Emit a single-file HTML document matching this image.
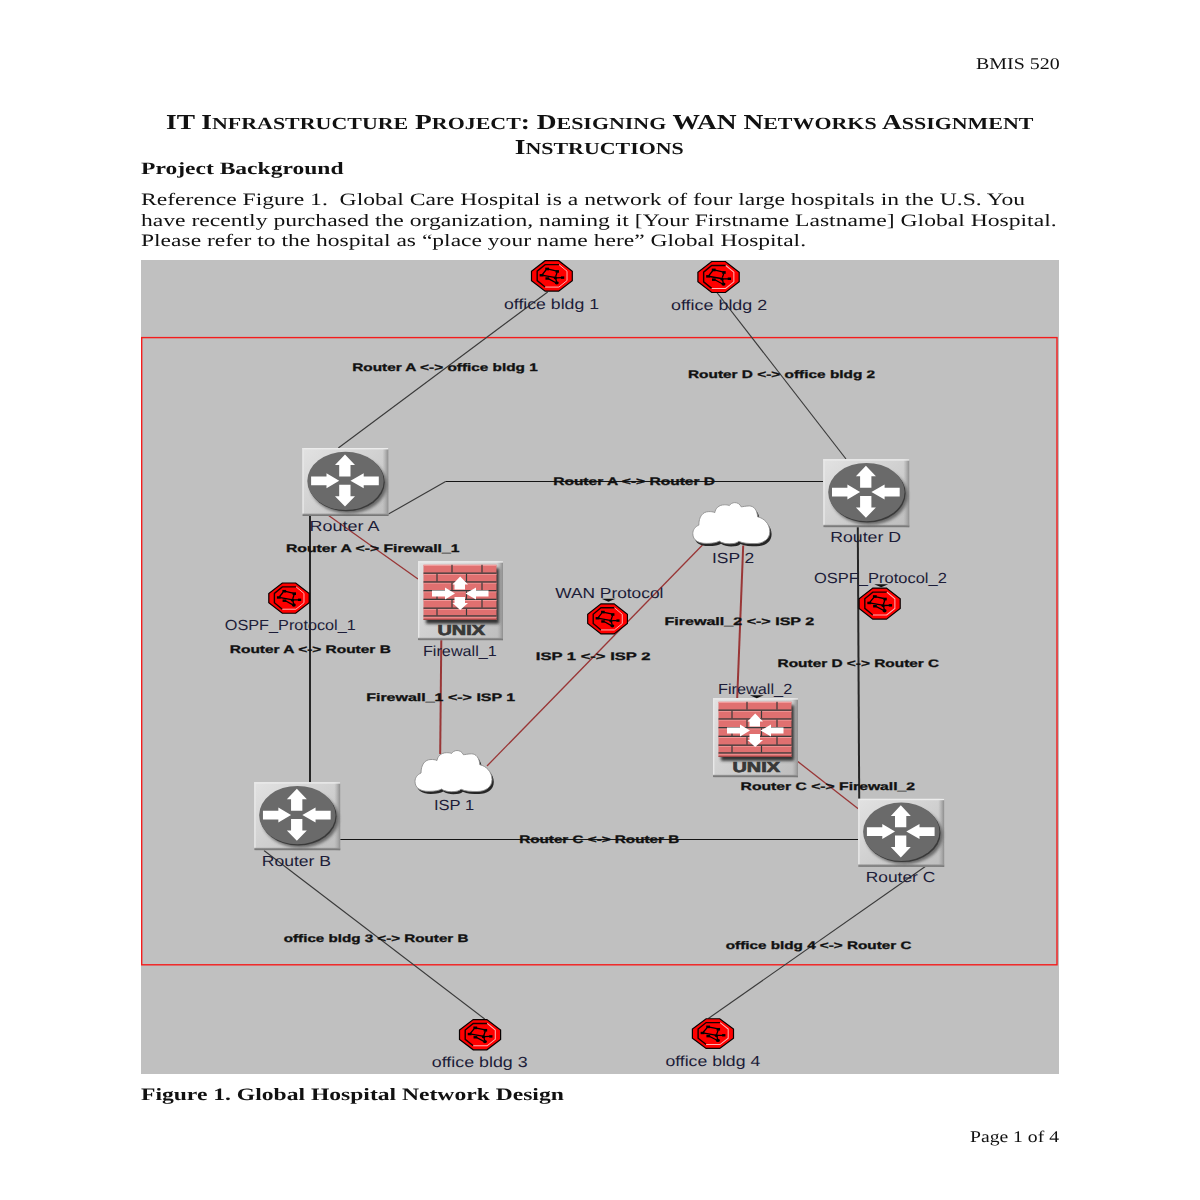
<!DOCTYPE html>
<html><head><meta charset="utf-8"><title>BMIS 520</title>
<style>
html,body{margin:0;padding:0;background:#fff;width:1200px;height:1200px;overflow:hidden}
svg{display:block}
text{white-space:pre;text-rendering:geometricPrecision}
text.d{opacity:0.995}
</style></head><body>
<svg width="1200" height="1200" viewBox="0 0 1200 1200">
<defs>
<linearGradient id="boxg" x1="0" y1="0" x2="1" y2="1">
  <stop offset="0" stop-color="#e2e2e2"/>
  <stop offset="0.5" stop-color="#d0d0d0"/>
  <stop offset="1" stop-color="#bdbdbd"/>
</linearGradient>
<linearGradient id="redge" x1="0" y1="0" x2="1" y2="0"><stop offset="0" stop-color="#b0b0b0" stop-opacity="0"/><stop offset="0.7" stop-color="#a4a4a4"/><stop offset="1" stop-color="#8e8e8e"/></linearGradient>
<linearGradient id="bedge" x1="0" y1="0" x2="0" y2="1"><stop offset="0" stop-color="#9a9a9a"/><stop offset="1" stop-color="#6e6e6e"/></linearGradient>
<filter id="blur1" x="-20%" y="-20%" width="140%" height="140%"><feGaussianBlur stdDeviation="1.6"/></filter>
<filter id="blur05" x="-20%" y="-20%" width="140%" height="140%"><feGaussianBlur stdDeviation="0.7"/></filter>
<symbol id="router" overflow="visible">
  <rect x="0" y="0" width="86" height="68" fill="url(#boxg)"/>
  <rect x="80" y="0" width="6" height="68" fill="url(#redge)"/>
  <rect x="0" y="0" width="86" height="1.4" fill="#ececec"/>
  <rect x="0" y="0" width="1.4" height="68" fill="#e8e8e8"/>
  <rect x="0" y="65.6" width="86" height="2.4" fill="url(#bedge)"/>
  <ellipse cx="46" cy="36.5" rx="38.5" ry="29" fill="#4a4a4a" filter="url(#blur1)" opacity="0.75"/>
  <ellipse cx="44.1" cy="34.2" rx="38.2" ry="29.1" fill="#3a3a3a"/>
  <ellipse cx="43.1" cy="32.9" rx="38.2" ry="29.2" fill="#6a6a6a"/>
  <path fill="#fff" d="M42.6 6.5 L52.6 17.1 L48.1 17.1 L48.1 28.5 L36.8 28.5 L36.8 17.1 L32.6 17.1 Z"/>
  <path fill="#fff" d="M42.6 58.6 L52.6 48.3 L48.1 48.3 L48.1 36.8 L36.8 36.8 L36.8 48.3 L32.6 48.3 Z"/>
  <path fill="#fff" d="M36.8 32.8 L24.1 25.3 L24.1 28.5 L8.7 28.5 L8.7 37.2 L24.1 37.2 L24.1 40.3 Z"/>
  <path fill="#fff" d="M48.1 32.8 L61.3 25.3 L61.3 28.5 L76.4 28.5 L76.4 37.2 L61.3 37.2 L61.3 40.3 Z"/>
</symbol>
<symbol id="firewall" overflow="visible">
  <rect x="0" y="0" width="85" height="79" fill="url(#boxg)"/>
  <rect x="79" y="0" width="6" height="79" fill="url(#redge)"/>
  <rect x="0" y="0" width="85" height="1.4" fill="#ececec"/>
  <rect x="0" y="0" width="1.4" height="79" fill="#e8e8e8"/>
  <rect x="0" y="76.6" width="85" height="2.4" fill="url(#bedge)"/>
  <rect x="8" y="7" width="73" height="55.5" fill="#303030" filter="url(#blur1)"/>
  <rect x="5.5" y="3.6" width="73" height="55.2" fill="#e07070"/>
  <g fill="#f29a9a">
    <rect x="5.5" y="3.6" width="73" height="1.2"/>
    <rect x="5.5" y="12.6" width="73" height="1"/>
    <rect x="5.5" y="21.4" width="73" height="1"/>
    <rect x="5.5" y="30.1" width="73" height="1"/>
    <rect x="5.5" y="38.8" width="73" height="1"/>
    <rect x="5.5" y="47.6" width="73" height="1"/>
    <rect x="5.5" y="55.4" width="73" height="1"/>
  </g>
  <g fill="#3a3a3a">
    <rect x="5.5" y="11.3" width="73" height="1.3"/>
    <rect x="5.5" y="20.1" width="73" height="1.3"/>
    <rect x="5.5" y="28.8" width="73" height="1.3"/>
    <rect x="5.5" y="37.5" width="73" height="1.3"/>
    <rect x="5.5" y="46.3" width="73" height="1.3"/>
    <rect x="5.5" y="54.1" width="73" height="1.3"/>
    <rect x="33.4" y="3.6" width="1.2" height="7.8"/>
    <rect x="63.4" y="3.6" width="1.2" height="7.8"/>
    <rect x="18.4" y="12.5" width="1.2" height="7.8"/>
    <rect x="47.9" y="12.5" width="1.2" height="7.8"/>
    <rect x="33.4" y="21.3" width="1.2" height="7.8"/>
    <rect x="63.4" y="21.3" width="1.2" height="7.8"/>
    <rect x="18.4" y="30" width="1.2" height="7.8"/>
    <rect x="47.9" y="30" width="1.2" height="7.8"/>
    <rect x="33.4" y="38.7" width="1.2" height="7.8"/>
    <rect x="63.4" y="38.7" width="1.2" height="7.8"/>
    <rect x="18.4" y="47.5" width="1.2" height="6.8"/>
    <rect x="47.9" y="47.5" width="1.2" height="6.8"/>
  </g>
  <rect x="5.5" y="57.6" width="73" height="1.2" fill="#a04848"/>
  <path fill="#fff" d="M42.2 15.3 L50 23.3 L47 23.3 L47 28.3 L36.5 28.3 L36.5 23.3 L34.5 23.3 Z"/>
  <path fill="#fff" d="M42.2 48.8 L50 41.8 L47 41.8 L47 35.8 L36.5 35.8 L36.5 41.8 L34.5 41.8 Z"/>
  <path fill="#fff" d="M37 32.3 L27 26.3 L27 29.3 L14 29.3 L14 35.3 L27 35.3 L27 38.3 Z"/>
  <path fill="#fff" d="M47.5 32.3 L58 26.3 L58 29.3 L70.5 29.3 L70.5 35.3 L58 35.3 L58 38.3 Z"/>
  <text x="19.5" y="74.3" font-family='"Liberation Sans", sans-serif' font-weight="bold" font-size="14.5" fill="#383838" stroke="#383838" stroke-width="0.7" textLength="47.5" lengthAdjust="spacingAndGlyphs">UNIX</text>
</symbol>
<path id="cloudshape" d="M0 31 C0 38 6 40.8 13.5 40.8 C20 40.8 24 40 26.5 38.5 C29 40.5 33 41.2 36.5 41.2 C41 41.2 44 40.5 46 38.7 C50 40.8 56 41 62 41 C70 41 77 37 77 29 C77 21 71 15.5 64.8 14.2 C64.5 7.5 61 3.3 56.5 3.3 C53 3.3 50 4.2 48.4 4.2 C47 1.2 44.5 0 42 0 C39.5 0 37.5 1.5 36.5 3 C35 2.2 33.5 2.2 31.5 2.2 C26 2.2 22.5 6 22 10 C20 9 18 9 16 9 C10 9 6 14 6 22.5 C2.5 24 0 27 0 31 Z"/>
<symbol id="cloud" overflow="visible">
  <use href="#cloudshape" x="1.8" y="2.6" fill="#262626" filter="url(#blur05)"/>
  <use href="#cloudshape" fill="#fff" stroke="#8e8e8e" stroke-width="0.9"/>
</symbol>
<symbol id="octa" overflow="visible">
  <path d="M14.2 0.5 L27.8 0.5 L41.5 11.2 L41.5 20.8 L27.8 31.5 L14.2 31.5 L0.5 20.8 L0.5 11.2 Z" fill="#ff0000" stroke="#080000" stroke-width="1.2"/>
  <path d="M14.2 27.4 L6.2 20.8 L6.2 11.2 L14.2 4.5 L28.2 4.5" fill="none" stroke="#180000" stroke-width="1.4"/>
  <path d="M28.2 4.5 L36.2 11.2 L36.2 20.8 L28 27.4 L14.2 27.4" fill="none" stroke="#ffb4b4" stroke-width="1"/>
  <g stroke="#000" stroke-width="1.3" fill="none">
    <path d="M17.5 9.2 L25 10.9 M15 10 L11.3 14.6 M12.2 15.5 L23.5 17.5 M26.2 12.4 L24.8 16.6 M25.8 17.9 L30.5 17.8 M24.8 18.4 L25.7 22 M17.8 19 L24.6 22.7"/>
  </g>
  <g fill="#000">
    <rect x="14.3" y="7.6" width="3.8" height="2.7"/>
    <rect x="24.6" y="10.1" width="3.5" height="2.7"/>
    <rect x="8.7" y="14.1" width="3.9" height="2.5"/>
    <rect x="14.5" y="17.4" width="3.7" height="2.5"/>
    <ellipse cx="24.5" cy="18" rx="1.8" ry="1.6"/>
    <rect x="30.1" y="16.5" width="3.3" height="2.5"/>
    <ellipse cx="25.9" cy="23.1" rx="2" ry="1.7"/>
  </g>
</symbol>

</defs>
<rect x="0" y="0" width="1200" height="1200" fill="#fff"/>
<rect x="141" y="260" width="918" height="814" fill="#c0c0c0"/>
<rect x="141.7" y="337.6" width="915.3" height="627.2" fill="none" stroke="#f41c1c" stroke-width="1.4"/>
<line x1="547.70" y1="292.00" x2="338.30" y2="448.00" stroke="#3a3a3a" stroke-width="1.15"/>
<line x1="716.90" y1="292.50" x2="846.00" y2="459.00" stroke="#3a3a3a" stroke-width="1.15"/>
<line x1="264.00" y1="850.50" x2="484.70" y2="1019.00" stroke="#3a3a3a" stroke-width="1.15"/>
<line x1="925.30" y1="866.50" x2="708.30" y2="1018.50" stroke="#3a3a3a" stroke-width="1.15"/>
<line x1="387.60" y1="514.60" x2="445.60" y2="481.40" stroke="#3a3a3a" stroke-width="1.15"/>
<line x1="310.00" y1="515.00" x2="310.00" y2="782.50" stroke="#262626" stroke-width="2"/>
<line x1="857.80" y1="526.00" x2="859.20" y2="799.00" stroke="#262626" stroke-width="2"/>
<line x1="339.50" y1="839.50" x2="858.50" y2="839.50" stroke="#141414" stroke-width="1.1"/>
<line x1="445.60" y1="481.50" x2="823.30" y2="481.50" stroke="#141414" stroke-width="1.1"/>
<line x1="328.60" y1="515.50" x2="418.00" y2="579.00" stroke="#993636" stroke-width="1.3"/>
<line x1="441.30" y1="639.50" x2="440.20" y2="754.00" stroke="#993636" stroke-width="2"/>
<line x1="487.00" y1="766.00" x2="702.50" y2="545.00" stroke="#993636" stroke-width="1.3"/>
<line x1="743.20" y1="545.50" x2="737.20" y2="698.00" stroke="#993636" stroke-width="2"/>
<line x1="797.50" y1="761.30" x2="858.20" y2="808.70" stroke="#993636" stroke-width="1.3"/>
<use href="#router" x="302.40" y="448.00"/>
<use href="#router" x="823.30" y="459.20"/>
<use href="#router" x="254.25" y="782.20"/>
<use href="#router" x="858.20" y="798.80"/>
<use href="#firewall" x="418.00" y="561.20"/>
<use href="#firewall" x="713.00" y="698.20"/>
<use href="#cloud" x="415.00" y="750.50"/>
<use href="#cloud" x="692.80" y="502.60"/>
<use href="#octa" transform="translate(531.00,260.20) scale(0.9952,0.9812)"/>
<use href="#octa" transform="translate(697.40,261.00) scale(1.0071,1.0000)"/>
<use href="#octa" transform="translate(268.30,582.50) scale(0.9857,0.9750)"/>
<use href="#octa" transform="translate(587.20,603.40) scale(0.9690,0.9688)"/>
<use href="#octa" transform="translate(858.60,587.60) scale(1.0024,1.0000)"/>
<use href="#octa" transform="translate(459.00,1019.10) scale(1.0024,0.9750)"/>
<use href="#octa" transform="translate(691.90,1018.30) scale(1.0024,0.9563)"/>
<path d="M601.50 598.80 h14 l-7 3 z" fill="#111"/>
<path d="M749.80 695.20 h14 l-7 3 z" fill="#111"/>
<path d="M874.20 584.20 h14 l-7 3 z" fill="#111"/>
<text id="bmis" class="t d" transform="translate(975.97,68.70) scale(1,0.8300)" font-family='"Liberation Serif", serif' font-weight="normal" font-size="19.61" fill="#111" textLength="83.65" lengthAdjust="spacingAndGlyphs">BMIS 520</text>
<text id="title1" class="t d" transform="translate(166.00,129.25) scale(1,0.7727)" font-family='"Liberation Serif", serif' font-weight="bold" font-size="27.45" fill="#111" textLength="867.40" lengthAdjust="spacingAndGlyphs"><tspan font-size="27.45">IT I</tspan><tspan font-size="21.96">NFRASTRUCTURE</tspan><tspan font-size="27.45"> P</tspan><tspan font-size="21.96">ROJECT</tspan><tspan font-size="27.45">: D</tspan><tspan font-size="21.96">ESIGNING</tspan><tspan font-size="27.45"> WAN N</tspan><tspan font-size="21.96">ETWORKS</tspan><tspan font-size="27.45"> A</tspan><tspan font-size="21.96">SSIGNMENT</tspan></text>
<text id="title2" class="t d" transform="translate(514.79,153.80) scale(1,0.7727)" font-family='"Liberation Serif", serif' font-weight="bold" font-size="27.45" fill="#111" textLength="169.02" lengthAdjust="spacingAndGlyphs"><tspan font-size="27.45">I</tspan><tspan font-size="21.96">NSTRUCTIONS</tspan></text>
<text id="projbg" class="t d" transform="translate(141.00,174.20) scale(1,0.7350)" font-family='"Liberation Serif", serif' font-weight="bold" font-size="23.53" fill="#111" textLength="202.50" lengthAdjust="spacingAndGlyphs">Project Background</text>
<text id="body1" class="t d" transform="translate(141.00,204.80) scale(1,0.7400)" font-family='"Liberation Serif", serif' font-weight="normal" font-size="23.53" fill="#111" textLength="884.00" lengthAdjust="spacingAndGlyphs">Reference Figure 1.  Global Care Hospital is a network of four large hospitals in the U.S. You</text>
<text id="body2" class="t d" transform="translate(141.00,225.70) scale(1,0.7400)" font-family='"Liberation Serif", serif' font-weight="normal" font-size="23.53" fill="#111" textLength="915.61" lengthAdjust="spacingAndGlyphs">have recently purchased the organization, naming it [Your Firstname Lastname] Global Hospital.</text>
<text id="body3" class="t d" transform="translate(141.00,246.20) scale(1,0.7400)" font-family='"Liberation Serif", serif' font-weight="normal" font-size="23.53" fill="#111" textLength="665.01" lengthAdjust="spacingAndGlyphs">Please refer to the hospital as “place your name here” Global Hospital.</text>
<text id="caption" class="t d" transform="translate(141.00,1100.30) scale(1,0.7400)" font-family='"Liberation Serif", serif' font-weight="bold" font-size="23.53" fill="#111" textLength="422.81" lengthAdjust="spacingAndGlyphs">Figure 1. Global Hospital Network Design</text>
<text id="page" class="t d" transform="translate(969.99,1141.80) scale(1,0.8350)" font-family='"Liberation Serif", serif' font-weight="normal" font-size="19.61" fill="#111" textLength="89.01" lengthAdjust="spacingAndGlyphs">Page 1 of 4</text>
<text id="n_ob1" class="t" transform="translate(503.99,308.75)" font-family='"Liberation Sans", sans-serif' font-weight="normal" font-size="14.6" fill="#1c1c38" textLength="95.03" lengthAdjust="spacingAndGlyphs">office bldg 1</text>
<text id="n_ob2" class="t" transform="translate(670.98,309.50)" font-family='"Liberation Sans", sans-serif' font-weight="normal" font-size="14.6" fill="#1c1c38" textLength="96.22" lengthAdjust="spacingAndGlyphs">office bldg 2</text>
<text id="n_ra" class="t" transform="translate(309.58,530.90)" font-family='"Liberation Sans", sans-serif' font-weight="normal" font-size="14.6" fill="#1c1c38" textLength="69.84" lengthAdjust="spacingAndGlyphs">Router A</text>
<text id="n_rd" class="t" transform="translate(830.14,542.00)" font-family='"Liberation Sans", sans-serif' font-weight="normal" font-size="14.6" fill="#1c1c38" textLength="70.89" lengthAdjust="spacingAndGlyphs">Router D</text>
<text id="n_isp2" class="t" transform="translate(711.89,562.80)" font-family='"Liberation Sans", sans-serif' font-weight="normal" font-size="14.6" fill="#1c1c38" textLength="42.39" lengthAdjust="spacingAndGlyphs">ISP 2</text>
<text id="n_ospf2" class="t" transform="translate(813.99,582.60)" font-family='"Liberation Sans", sans-serif' font-weight="normal" font-size="14.6" fill="#1c1c38" textLength="132.81" lengthAdjust="spacingAndGlyphs">OSPF_Protocol_2</text>
<text id="n_wan" class="t" transform="translate(555.20,597.70)" font-family='"Liberation Sans", sans-serif' font-weight="normal" font-size="14.6" fill="#1c1c38" textLength="108.22" lengthAdjust="spacingAndGlyphs">WAN Protocol</text>
<text id="n_ospf1" class="t" transform="translate(224.79,630.30)" font-family='"Liberation Sans", sans-serif' font-weight="normal" font-size="14.6" fill="#1c1c38" textLength="131.02" lengthAdjust="spacingAndGlyphs">OSPF_Protocol_1</text>
<text id="n_fw1" class="t" transform="translate(422.98,655.50)" font-family='"Liberation Sans", sans-serif' font-weight="normal" font-size="14.6" fill="#1c1c38" textLength="73.83" lengthAdjust="spacingAndGlyphs">Firewall_1</text>
<text id="n_fw2" class="t" transform="translate(717.94,693.70)" font-family='"Liberation Sans", sans-serif' font-weight="normal" font-size="14.6" fill="#1c1c38" textLength="74.27" lengthAdjust="spacingAndGlyphs">Firewall_2</text>
<text id="n_isp1" class="t" transform="translate(433.97,810.00)" font-family='"Liberation Sans", sans-serif' font-weight="normal" font-size="14.6" fill="#1c1c38" textLength="40.11" lengthAdjust="spacingAndGlyphs">ISP 1</text>
<text id="n_rb" class="t" transform="translate(261.76,865.75)" font-family='"Liberation Sans", sans-serif' font-weight="normal" font-size="14.6" fill="#1c1c38" textLength="69.27" lengthAdjust="spacingAndGlyphs">Router B</text>
<text id="n_rc" class="t" transform="translate(865.74,882.20)" font-family='"Liberation Sans", sans-serif' font-weight="normal" font-size="14.6" fill="#1c1c38" textLength="69.48" lengthAdjust="spacingAndGlyphs">Router C</text>
<text id="n_ob3" class="t" transform="translate(431.78,1067.00)" font-family='"Liberation Sans", sans-serif' font-weight="normal" font-size="14.6" fill="#1c1c38" textLength="95.83" lengthAdjust="spacingAndGlyphs">office bldg 3</text>
<text id="n_ob4" class="t" transform="translate(665.38,1065.80)" font-family='"Liberation Sans", sans-serif' font-weight="normal" font-size="14.6" fill="#1c1c38" textLength="94.83" lengthAdjust="spacingAndGlyphs">office bldg 4</text>
<text id="l1" class="t" transform="translate(352.20,370.70)" font-family='"Liberation Sans", sans-serif' font-weight="bold" font-size="10.9" fill="#111" stroke="#111" stroke-width="0.3" textLength="185.61" lengthAdjust="spacingAndGlyphs">Router A &lt;-&gt; office bldg 1</text>
<text id="l2" class="t" transform="translate(687.99,377.50)" font-family='"Liberation Sans", sans-serif' font-weight="bold" font-size="10.9" fill="#111" stroke="#111" stroke-width="0.3" textLength="187.21" lengthAdjust="spacingAndGlyphs">Router D &lt;-&gt; office bldg 2</text>
<text id="l3" class="t" transform="translate(553.19,485.30)" font-family='"Liberation Sans", sans-serif' font-weight="bold" font-size="10.9" fill="#111" stroke="#111" stroke-width="0.3" textLength="161.82" lengthAdjust="spacingAndGlyphs">Router A &lt;-&gt; Router D</text>
<text id="l4" class="t" transform="translate(286.00,551.90)" font-family='"Liberation Sans", sans-serif' font-weight="bold" font-size="10.9" fill="#111" stroke="#111" stroke-width="0.3" textLength="173.40" lengthAdjust="spacingAndGlyphs">Router A &lt;-&gt; Firewall_1</text>
<text id="l5" class="t" transform="translate(664.49,625.00)" font-family='"Liberation Sans", sans-serif' font-weight="bold" font-size="10.9" fill="#111" stroke="#111" stroke-width="0.3" textLength="149.72" lengthAdjust="spacingAndGlyphs">Firewall_2 &lt;-&gt; ISP 2</text>
<text id="l6" class="t" transform="translate(229.80,653.30)" font-family='"Liberation Sans", sans-serif' font-weight="bold" font-size="10.9" fill="#111" stroke="#111" stroke-width="0.3" textLength="161.01" lengthAdjust="spacingAndGlyphs">Router A &lt;-&gt; Router B</text>
<text id="l7" class="t" transform="translate(535.78,659.70)" font-family='"Liberation Sans", sans-serif' font-weight="bold" font-size="10.9" fill="#111" stroke="#111" stroke-width="0.3" textLength="114.63" lengthAdjust="spacingAndGlyphs">ISP 1 &lt;-&gt; ISP 2</text>
<text id="l8" class="t" transform="translate(777.59,666.60)" font-family='"Liberation Sans", sans-serif' font-weight="bold" font-size="10.9" fill="#111" stroke="#111" stroke-width="0.3" textLength="161.62" lengthAdjust="spacingAndGlyphs">Router D &lt;-&gt; Router C</text>
<text id="l9" class="t" transform="translate(366.19,701.00)" font-family='"Liberation Sans", sans-serif' font-weight="bold" font-size="10.9" fill="#111" stroke="#111" stroke-width="0.3" textLength="149.02" lengthAdjust="spacingAndGlyphs">Firewall_1 &lt;-&gt; ISP 1</text>
<text id="l10" class="t" transform="translate(740.59,789.70)" font-family='"Liberation Sans", sans-serif' font-weight="bold" font-size="10.9" fill="#111" stroke="#111" stroke-width="0.3" textLength="174.41" lengthAdjust="spacingAndGlyphs">Router C &lt;-&gt; Firewall_2</text>
<text id="l11" class="t" transform="translate(519.19,843.00)" font-family='"Liberation Sans", sans-serif' font-weight="bold" font-size="10.9" fill="#111" stroke="#111" stroke-width="0.3" textLength="160.02" lengthAdjust="spacingAndGlyphs">Router C &lt;-&gt; Router B</text>
<text id="l12" class="t" transform="translate(283.80,941.60)" font-family='"Liberation Sans", sans-serif' font-weight="bold" font-size="10.9" fill="#111" stroke="#111" stroke-width="0.3" textLength="184.61" lengthAdjust="spacingAndGlyphs">office bldg 3 &lt;-&gt; Router B</text>
<text id="l13" class="t" transform="translate(725.80,949.40)" font-family='"Liberation Sans", sans-serif' font-weight="bold" font-size="10.9" fill="#111" stroke="#111" stroke-width="0.3" textLength="185.61" lengthAdjust="spacingAndGlyphs">office bldg 4 &lt;-&gt; Router C</text>
</svg>
</body></html>
